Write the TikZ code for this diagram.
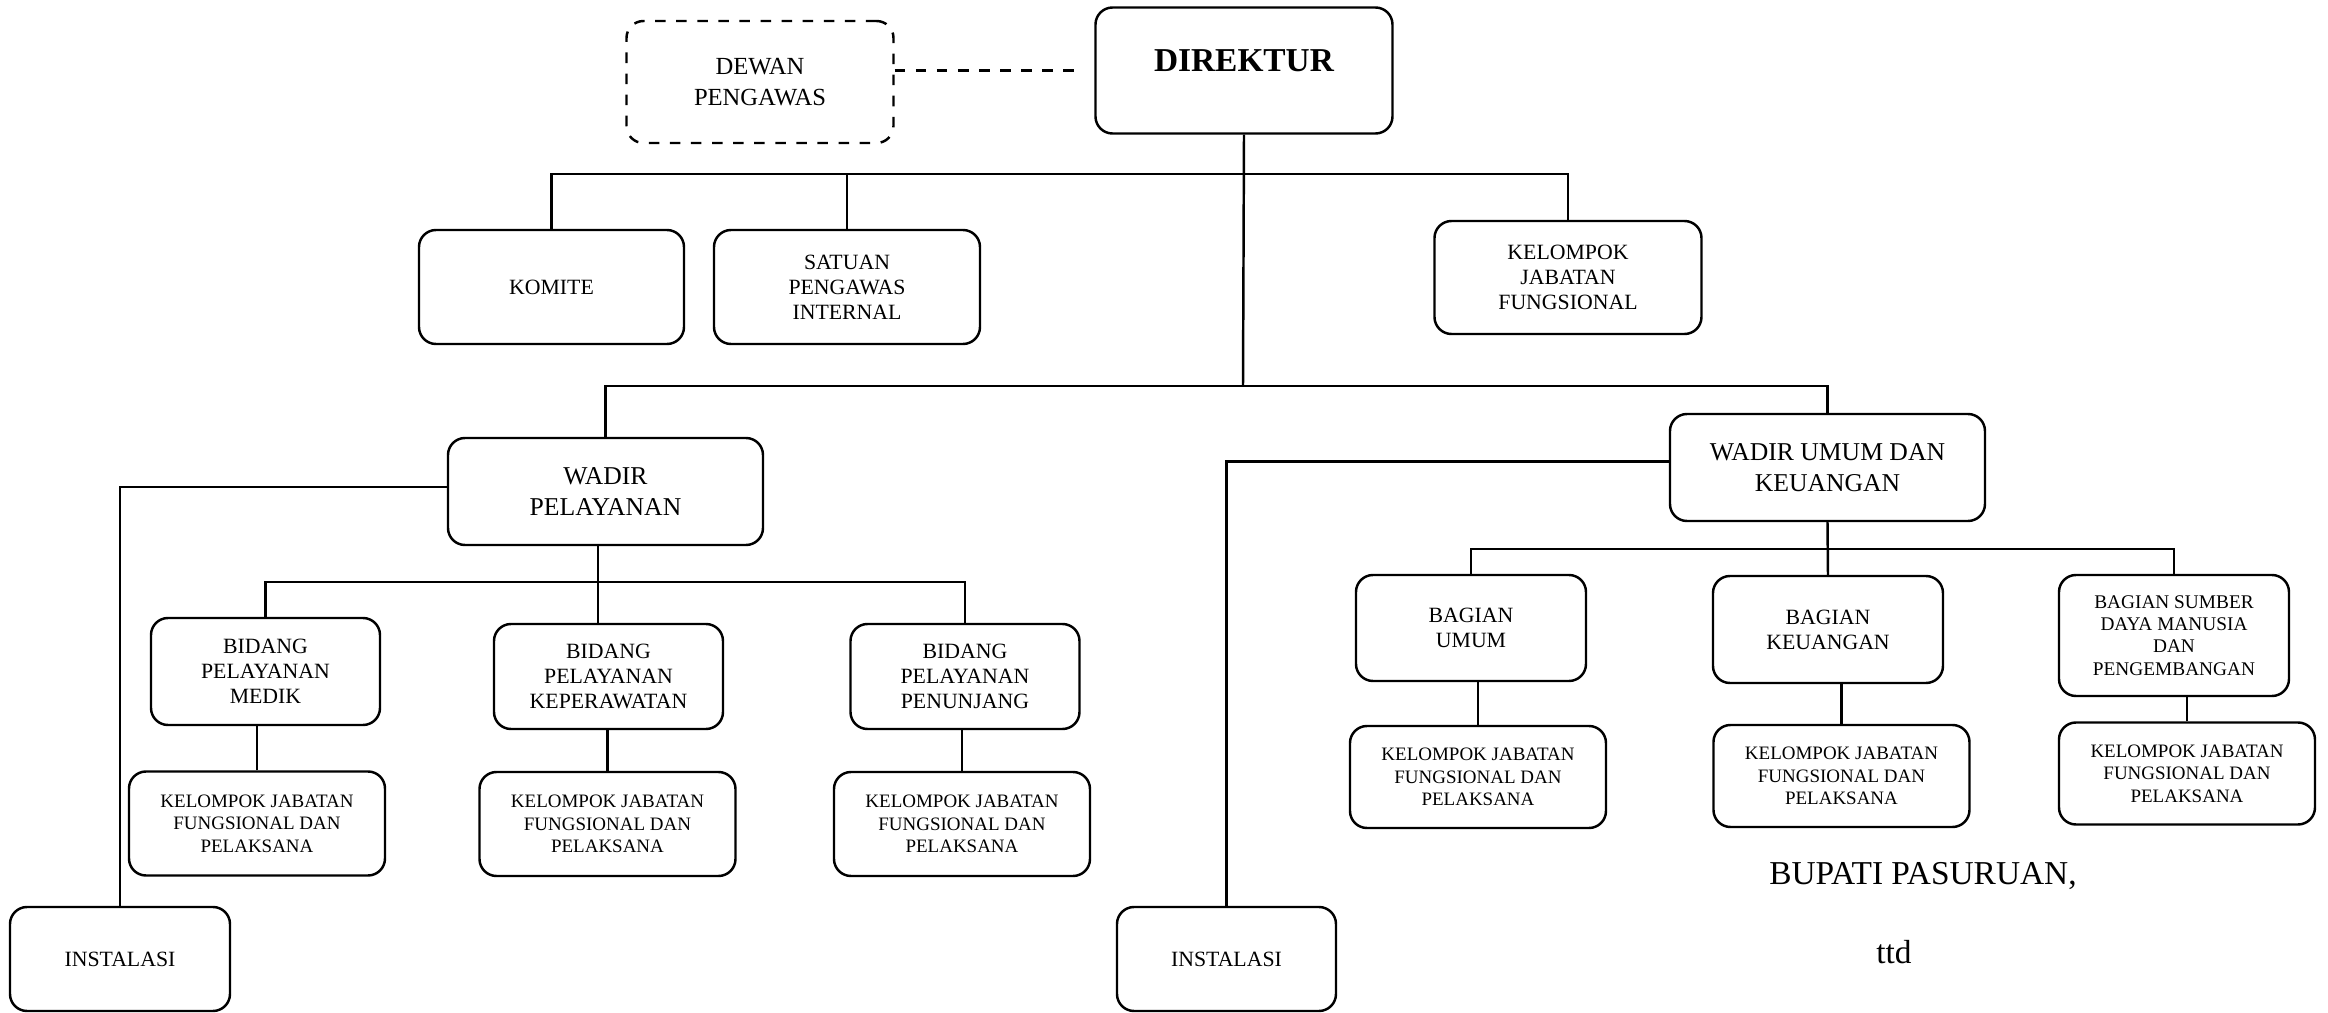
\documentclass[tikz,border=0pt]{standalone}
\usepackage{fontspec}
\setmainfont{Liberation Serif}
\usepackage{tikz}
\usetikzlibrary{calc}
\usetikzlibrary{positioning}

\begin{document}
\begin{tikzpicture}[
		box/.style={draw, rounded corners=0.17cm, line width=0.7pt, align=center, inner sep=1pt},
		bigbox/.style={box, font=\fontsize{7.3}{8.8}\selectfont},
		midbox/.style={box, font=\fontsize{6.2}{7.1}\selectfont},
		smallbox/.style={box, font=\fontsize{5.4}{6.4}\selectfont, minimum width=2.56cm, minimum height=1.04cm},
		edge/.style={line width=0.7pt},
		link/.style={edge, dashed}
	]
	\useasboundingbox (0,0) rectangle (23.28,-10.13);

	\node[box, font=\fontsize{9.5}{11}\selectfont\bfseries, minimum width=2.97cm, minimum height=1.26cm, text depth=0.19cm] (dir) at (12.44,-0.705) {DIREKTUR};
	\node[bigbox, dashed, minimum width=2.67cm, minimum height=1.22cm, font=\fontsize{7}{8.8}\selectfont] (dewan) at (7.60,-0.82) {DEWAN\\PENGAWAS};

	\node[midbox, minimum width=2.65cm, minimum height=1.14cm] (komite) at (5.515,-2.87) {KOMITE};
	\node[midbox, minimum width=2.66cm, minimum height=1.14cm] (spi) at (8.47,-2.87) {SATUAN\\PENGAWAS\\INTERNAL};
	\node[midbox, minimum width=2.67cm, minimum height=1.13cm] (kjf) at (15.68,-2.775) {KELOMPOK\\JABATAN\\FUNGSIONAL};

	\node[bigbox, minimum width=3.15cm, minimum height=1.07cm] (wp) at (6.055,-4.915) {WADIR\\PELAYANAN};
	\node[bigbox, minimum width=3.15cm, minimum height=1.07cm] (wu) at (18.275,-4.675) {WADIR UMUM DAN\\KEUANGAN};

	\node[midbox, minimum width=2.29cm, minimum height=1.07cm] (bpm) at (2.655,-6.715) {BIDANG\\PELAYANAN\\MEDIK};
	\node[midbox, minimum width=2.29cm, minimum height=1.05cm] (bpk) at (6.085,-6.765) {BIDANG\\PELAYANAN\\KEPERAWATAN};
	\node[midbox, minimum width=2.29cm, minimum height=1.05cm] (bpp) at (9.65,-6.765) {BIDANG\\PELAYANAN\\PENUNJANG};

	\node[smallbox] (k1) at (2.57,-8.235) {KELOMPOK JABATAN\\FUNGSIONAL DAN\\PELAKSANA};
	\node[smallbox] (k2) at (6.075,-8.24) {KELOMPOK JABATAN\\FUNGSIONAL DAN\\PELAKSANA};
	\node[smallbox] (k3) at (9.62,-8.24) {KELOMPOK JABATAN\\FUNGSIONAL DAN\\PELAKSANA};

	\node[midbox, minimum width=2.30cm, minimum height=1.06cm] (bu) at (14.71,-6.28) {BAGIAN\\UMUM};
	\node[midbox, minimum width=2.30cm, minimum height=1.07cm] (bk) at (18.28,-6.295) {BAGIAN\\KEUANGAN};
	\node[box, font=\fontsize{5.5}{6.3}\selectfont, minimum width=2.30cm, minimum height=1.21cm] (bsdm) at (21.74,-6.355) {BAGIAN SUMBER\\DAYA MANUSIA\\DAN\\PENGEMBANGAN};

	\node[smallbox, minimum height=1.02cm] (k4) at (14.78,-7.77) {KELOMPOK JABATAN\\FUNGSIONAL DAN\\PELAKSANA};
	\node[smallbox, minimum height=1.02cm] (k5) at (18.415,-7.76) {KELOMPOK JABATAN\\FUNGSIONAL DAN\\PELAKSANA};
	\node[smallbox, minimum height=1.02cm] (k6) at (21.87,-7.735) {KELOMPOK JABATAN\\FUNGSIONAL DAN\\PELAKSANA};

	\node[midbox, minimum width=2.20cm, minimum height=1.04cm] (inst1) at (1.20,-9.59) {INSTALASI};
	\node[midbox, minimum width=2.19cm, minimum height=1.04cm] (inst2) at (12.265,-9.59) {INSTALASI};

	\node[font=\fontsize{9.5}{11}\selectfont] (bupati) at (19.23,-8.76) {BUPATI PASURUAN,};
	\node[font=\fontsize{9.5}{11}\selectfont] (ttd) at (18.94,-9.52) {ttd};

	\coordinate (j1) at (12.43,-1.74);
	\coordinate (j2) at (12.43,-3.86);
	\coordinate (j3) at (5.98,-5.82);
	\coordinate (j4) at (18.28,-5.49);

	\draw[link, shorten >=0.12cm] (dewan.east |- dir.west) -- (dir.west);
	\draw[edge] (dir.south) -- (j2);
	\draw[edge] (komite.north) |- (kjf.north |- j1) -- (kjf.north);
	\draw[edge] (spi.north) -- (spi.north |- j1);
	\draw[edge] (wp.north) |- (wu.north |- j2) -- (wu.north);

	\draw[edge] ([yshift=0.045cm]wp.west) -| (inst1.north);
	\draw[edge] ([yshift=0.06cm]wu.west) -| (inst2.north);

	\draw[edge] (wp.south -| j3) -- (bpk.north -| j3);
	\draw[edge] (bpm.north) |- (bpp.north |- j3) -- (bpp.north);
	\draw[edge] (wu.south) -- (bk.north);
	\draw[edge] (bu.north) |- (bsdm.north |- j4) -- (bsdm.north);

	\draw[edge] (k1.north) -- (k1.north |- bpm.south);
	\draw[edge] (k2.north) -- (k2.north |- bpk.south);
	\draw[edge] (k3.north) -- (k3.north |- bpp.south);
	\draw[edge] (k4.north) -- (k4.north |- bu.south);
	\draw[edge] (k5.north) -- (k5.north |- bk.south);
	\draw[edge] (k6.north) -- (k6.north |- bsdm.south);
\end{tikzpicture}
\end{document}
